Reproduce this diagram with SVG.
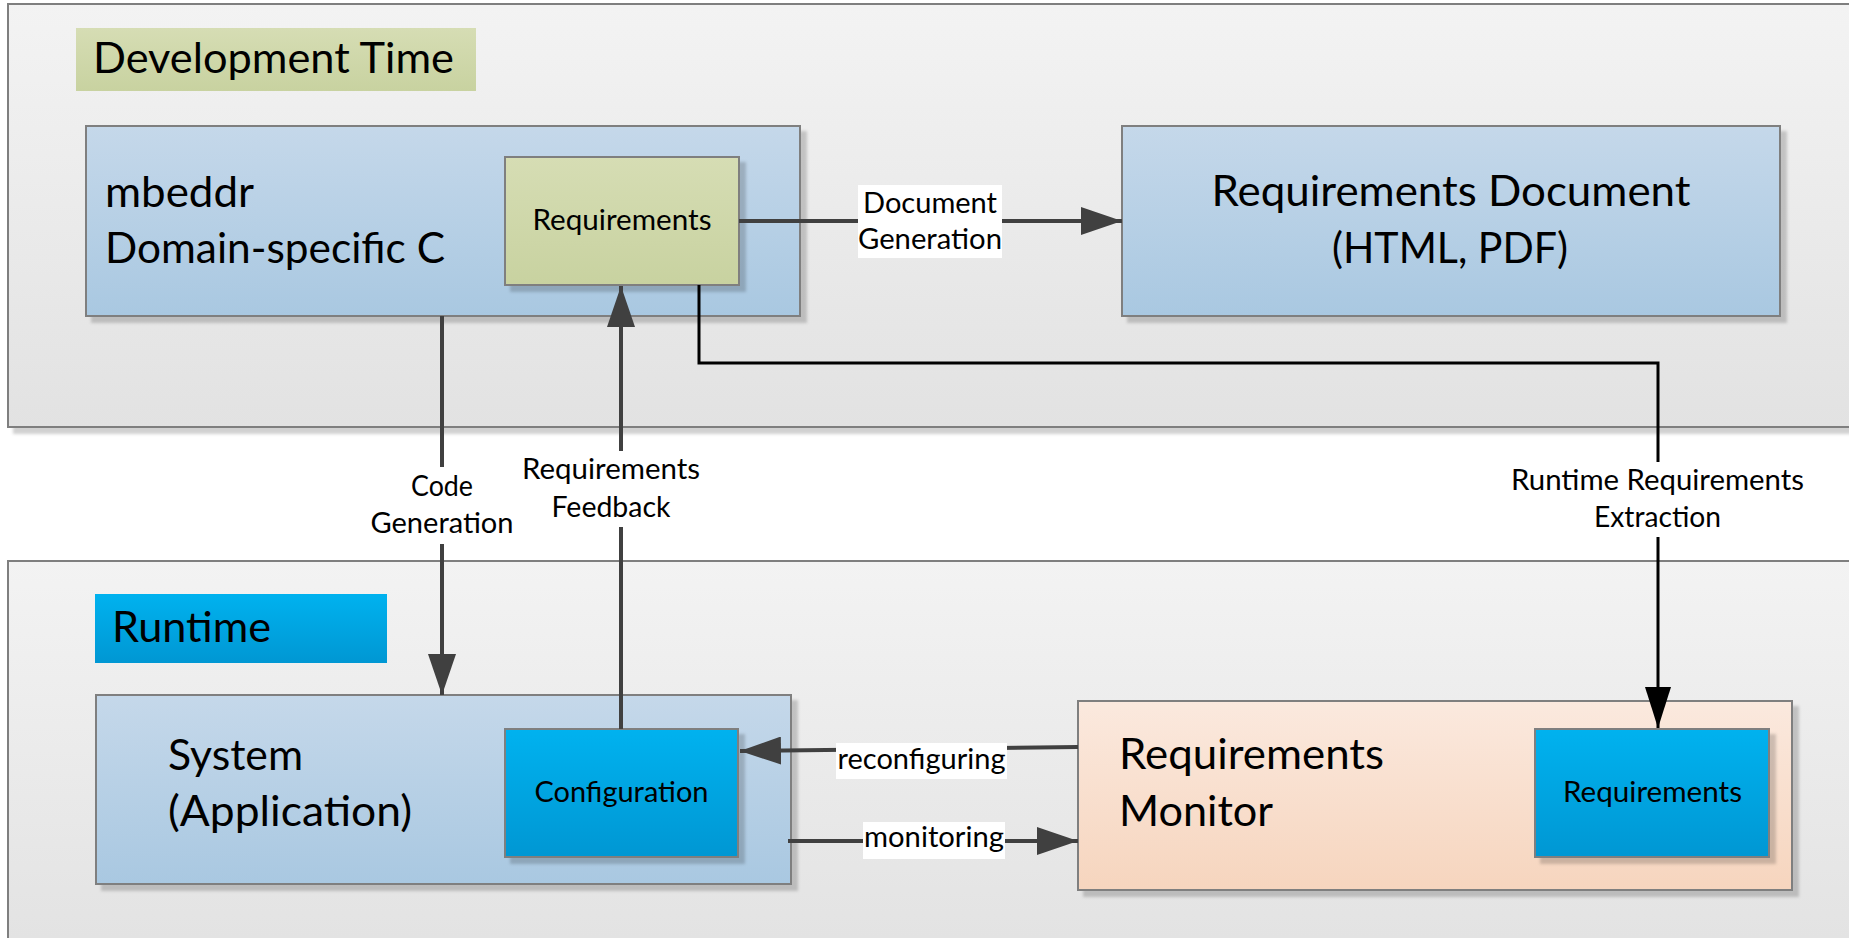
<svg xmlns="http://www.w3.org/2000/svg" width="1849" height="938" viewBox="0 0 1849 938">
  <defs>
    <linearGradient id="gPanel" x1="0" y1="0" x2="0" y2="1">
      <stop offset="0" stop-color="#f3f3f3"/>
      <stop offset="1" stop-color="#e2e2e2"/>
    </linearGradient>
    <linearGradient id="gBlue" x1="0" y1="0" x2="0" y2="1">
      <stop offset="0" stop-color="#c5d8ea"/>
      <stop offset="1" stop-color="#a9c8e1"/>
    </linearGradient>
    <linearGradient id="gOlive" x1="0" y1="0" x2="0" y2="1">
      <stop offset="0" stop-color="#d6ddb4"/>
      <stop offset="1" stop-color="#c8d2a0"/>
    </linearGradient>
    <linearGradient id="gCyan" x1="0" y1="0" x2="0" y2="1">
      <stop offset="0" stop-color="#00b2ef"/>
      <stop offset="1" stop-color="#0097d3"/>
    </linearGradient>
    <linearGradient id="gPeach" x1="0" y1="0" x2="0" y2="1">
      <stop offset="0" stop-color="#fbe9de"/>
      <stop offset="1" stop-color="#f6d5be"/>
    </linearGradient>
    <filter id="shadow" x="-5%" y="-5%" width="115%" height="120%">
      <feDropShadow dx="6" dy="6" stdDeviation="1.5" flood-color="#000" flood-opacity="0.18"/>
    </filter>
    <marker id="arrGray" markerUnits="userSpaceOnUse" markerWidth="42" markerHeight="28" refX="41" refY="14" orient="auto" viewBox="0 0 42 28">
      <path d="M0,0 L41,14 L0,28 z" fill="#404040"/>
    </marker>
    <marker id="arrBlack" markerUnits="userSpaceOnUse" markerWidth="42" markerHeight="28" refX="41" refY="13" orient="auto" viewBox="0 0 42 26">
      <path d="M0,0 L41,13 L0,26 z" fill="#000"/>
    </marker>
    <style>
      .panel { fill: url(#gPanel); stroke: #7f7f7f; stroke-width: 2; }
      .box { stroke: #7f7f7f; stroke-width: 2; }
      .blue { fill: url(#gBlue); }
      .olive { fill: url(#gOlive); }
      .cyan { fill: url(#gCyan); }
      .peach { fill: url(#gPeach); }
      text { font-family: Lato, "Liberation Sans", sans-serif; fill: #000; }
      .big { font-size: 42px; }
      .small { font-size: 28px; }
      .mid { text-anchor: middle; }
      .conn { fill: none; stroke: #404040; stroke-width: 4; }
      .connB { fill: none; stroke: #000; stroke-width: 3; }
      .lblbg { fill: #fff; }
    </style>
  </defs>

  <rect width="1849" height="938" fill="#fff"/>

  <!-- Swimlane panels -->
  <g id="panel-dev">
    <rect x="8" y="4" width="1860" height="423" class="panel" filter="url(#shadow)"/>
  </g>
  <g id="panel-runtime">
    <rect x="8" y="561" width="1860" height="400" class="panel"/>
  </g>

  <!-- Lane titles -->
  <g id="title-dev">
    <rect x="76" y="28" width="400" height="63" class="olive"/>
    <text x="93" y="73" class="big" textLength="361" lengthAdjust="spacingAndGlyphs">Development Time</text>
  </g>
  <g id="title-runtime">
    <rect x="95" y="594" width="292" height="69" class="cyan"/>
    <text x="112" y="642" class="big" textLength="159" lengthAdjust="spacingAndGlyphs">Runtime</text>
  </g>

  <!-- Development time nodes -->
  <g id="node-mbeddr">
    <rect x="86" y="126" width="714" height="190" class="box blue" filter="url(#shadow)"/>
    <text x="105" y="207" class="big" textLength="149" lengthAdjust="spacingAndGlyphs">mbeddr</text>
    <text x="105" y="263" class="big" textLength="340" lengthAdjust="spacingAndGlyphs">Domain-specific C</text>
  </g>
  <g id="node-requirements-dev">
    <rect x="505" y="157" width="234" height="128" class="box olive" filter="url(#shadow)"/>
    <text x="622" y="230" class="small mid" textLength="179" lengthAdjust="spacingAndGlyphs">Requirements</text>
  </g>
  <g id="node-reqdoc">
    <rect x="1122" y="126" width="658" height="190" class="box blue" filter="url(#shadow)"/>
    <text x="1451" y="206" class="big mid" textLength="479" lengthAdjust="spacingAndGlyphs">Requirements Document</text>
    <text x="1450" y="263" class="big mid" textLength="236" lengthAdjust="spacingAndGlyphs">(HTML, PDF)</text>
  </g>

  <!-- Runtime nodes -->
  <g id="node-system">
    <rect x="96" y="695" width="695" height="189" class="box blue" filter="url(#shadow)"/>
    <text x="168" y="770" class="big" textLength="135" lengthAdjust="spacingAndGlyphs">System</text>
    <text x="168" y="826" class="big" textLength="244" lengthAdjust="spacingAndGlyphs">(Application)</text>
  </g>
  <g id="node-configuration">
    <rect x="505" y="729" width="233" height="128" class="box cyan" filter="url(#shadow)"/>
    <text x="621.5" y="802" class="small mid" textLength="174" lengthAdjust="spacingAndGlyphs">Configuration</text>
  </g>
  <g id="node-monitor">
    <rect x="1078" y="701" width="714" height="189" class="box peach" filter="url(#shadow)"/>
    <text x="1119" y="769" class="big" textLength="265" lengthAdjust="spacingAndGlyphs">Requirements</text>
    <text x="1119" y="826" class="big" textLength="154" lengthAdjust="spacingAndGlyphs">Monitor</text>
  </g>
  <g id="node-requirements-rt">
    <rect x="1535" y="729" width="234" height="128" class="box cyan" filter="url(#shadow)"/>
    <text x="1652.5" y="802" class="small mid" textLength="179" lengthAdjust="spacingAndGlyphs">Requirements</text>
  </g>

  <!-- Connectors -->
  <g id="connectors">
    <path d="M739,221 H1122" class="conn" marker-end="url(#arrGray)"/>
    <rect x="858" y="185" width="144" height="73" class="lblbg"/>
    <text x="930" y="213" class="small mid" textLength="134" lengthAdjust="spacingAndGlyphs">Document</text>
    <text x="930" y="249" class="small mid" textLength="144" lengthAdjust="spacingAndGlyphs">Generation</text>

    <path d="M442,316 V695" class="conn" marker-end="url(#arrGray)"/>
    <rect x="366" y="467" width="152" height="77" class="lblbg"/>
    <text x="442" y="496" class="small mid" textLength="62" lengthAdjust="spacingAndGlyphs">Code</text>
    <text x="442" y="533" class="small mid" textLength="143" lengthAdjust="spacingAndGlyphs">Generation</text>

    <path d="M621,729 V286" class="conn" marker-end="url(#arrGray)"/>
    <rect x="520" y="451" width="183" height="76" class="lblbg"/>
    <text x="611" y="479" class="small mid" textLength="178" lengthAdjust="spacingAndGlyphs">Requirements</text>
    <text x="611" y="517" class="small mid" textLength="119" lengthAdjust="spacingAndGlyphs">Feedback</text>

    <path d="M699,285 V363 H1658 V728" class="connB" marker-end="url(#arrBlack)"/>
    <rect x="1508" y="462" width="300" height="75" class="lblbg"/>
    <text x="1657.5" y="490" class="small mid" textLength="293" lengthAdjust="spacingAndGlyphs">Runtime Requirements</text>
    <text x="1657.5" y="527" class="small mid" textLength="127" lengthAdjust="spacingAndGlyphs">Extraction</text>

    <path d="M1078,747 L740,751" class="conn" marker-end="url(#arrGray)"/>
    <rect x="836" y="743" width="171" height="36" class="lblbg"/>
    <text x="921.5" y="769" class="small mid" textLength="168" lengthAdjust="spacingAndGlyphs">reconfiguring</text>

    <path d="M788,841 H1078" class="conn" marker-end="url(#arrGray)"/>
    <rect x="863" y="822" width="142" height="37" class="lblbg"/>
    <text x="934" y="847" class="small mid" textLength="140" lengthAdjust="spacingAndGlyphs">monitoring</text>
  </g>
</svg>
